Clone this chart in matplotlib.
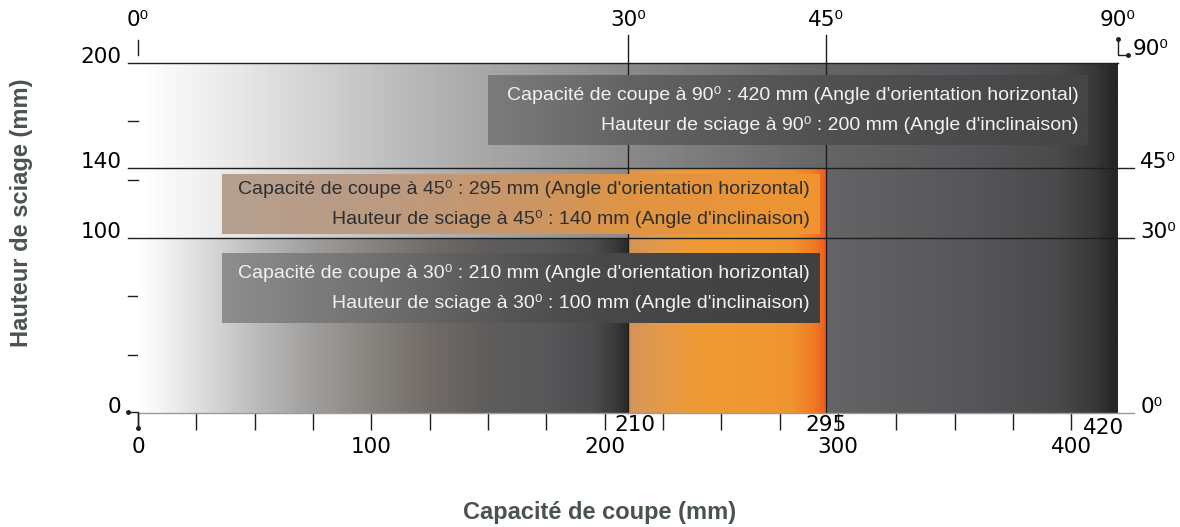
import numpy as np
import matplotlib.pyplot as plt
from matplotlib.colors import LinearSegmentedColormap

plt.rcParams['font.family'] = ['Liberation Sans', 'DejaVu Sans']

# Angles and matching capacities (mm)
angles = [30, 45, 90]
cut_capacity = [210, 295, 420]   # Capacité de coupe
saw_height = [100, 140, 200]     # Hauteur de sciage
top_angles = [0, 30, 45, 90]
right_angles = [0, 30, 45]
x_major = [0, 100, 200, 300, 400]
x_minor = np.arange(25, 425, 25)
y_major = [0, 100, 140, 200]
y_minor = [33.3, 66.7, 133.3, 166.7]

LINE = '#1e1e1e'
TITLE = '#4a5351'
TICKFONT = dict(fontsize=15.5, family='DejaVu Sans')


def gradient(ax, x0, x1, y0, y1, stops, z):
    pos = [((s - x0) / (x1 - x0), c) for s, c in stops]
    cmap = LinearSegmentedColormap.from_list('g', pos)
    ax.imshow(np.linspace(0, 1, 400)[None, :], cmap=cmap, extent=[x0, x1, y0, y1],
              aspect='auto', zorder=z, interpolation='bilinear')


fig = plt.figure(figsize=(11.8, 5.27), dpi=100)
ax = fig.add_axes([138 / 1180, 114 / 527, 980 / 1180, 350 / 527])

# background zones
gradient(ax, 0, cut_capacity[2], 0, saw_height[2],
         [(0, '#ffffff'), (40, '#e9e9e9'), (110, '#bdbdbd'), (150, '#a7a7a7'),
          (210, '#8a8a8a'), (295, '#656567'), (360, '#56565a'), (395, '#4a4a4c'),
          (410, '#3a3a3b'), (420, '#262626')], 1)
gradient(ax, cut_capacity[0], cut_capacity[1], 0, saw_height[1],
         [(210, '#d49458'), (225, '#e59a48'), (240, '#f09a35'), (280, '#f0952e'),
          (290, '#f07a25'), (295, '#ee5a1e')], 2)
gradient(ax, 0, cut_capacity[0], 0, saw_height[0],
         [(0, '#ffffff'), (8, '#f6f6f6'), (27, '#dcdcdc'), (50, '#bcbcbc'),
          (75, '#a09e9c'), (100, '#88847f'), (125, '#726c68'), (150, '#5f5d5c'),
          (175, '#58585a'), (195, '#4e4e50'), (205, '#3a3a3a'), (210, '#2a2a2a')], 3)

# guide lines
ax.plot([-4.3, cut_capacity[2]], [saw_height[2]] * 2, color=LINE, lw=1, zorder=4, clip_on=False)
for h in saw_height[:2]:
    ax.plot([-4.3, 427], [h, h], color=LINE, lw=1, zorder=4, clip_on=False)
for c in cut_capacity[:2]:
    ax.plot([c, c], [0, 216], color=LINE, lw=1, zorder=4, clip_on=False)
ax.plot([0, 427], [0, 0], color='#9a9a9a', lw=1, zorder=4, clip_on=False)
ax.plot([0, 0], [204.6, 213], color=LINE, lw=1, clip_on=False)

# corner marks
ax.plot([-4.3, 0, 0], [0.6, 0.6, -8.6], color=LINE, lw=1, clip_on=False, zorder=5)
ax.plot([-4.3, 0], [0.6, -8.6], 'o', color=LINE, ms=2.5, clip_on=False, zorder=5)
ax.plot([420, 420, 424.3], [213.7, 204.6, 204.6], color=LINE, lw=1, clip_on=False)
ax.plot([420, 424.3], [213.7, 204.6], 'o', color=LINE, ms=2.5, clip_on=False)

# label boxes
boxes = {
    90: dict(x=(150, 407), y=(153, 193), fg='#f2f2f2',
             stops=[(150, '#7c7c7c'), (210, '#636363'), (295, '#515151'), (407, '#454545')]),
    45: dict(x=(36, 292), y=(102.5, 136.5), fg='#2e2e2e',
             stops=[(36, '#b4a090'), (110, '#bc9a80'), (170, '#cc9664'), (210, '#e09444'),
                    (292, '#f09430')]),
    30: dict(x=(36, 292), y=(51.5, 91), fg='#f2f2f2',
             stops=[(36, '#8e8e8e'), (100, '#727070'), (150, '#5a5858'), (200, '#484848'),
                    (292, '#404040')]),
}
for a, c, h in zip(angles, cut_capacity, saw_height):
    b = boxes[a]
    gradient(ax, b['x'][0], b['x'][1], b['y'][0], b['y'][1], b['stops'], 6)
    yc = (b['y'][0] + b['y'][1]) / 2
    xr = b['x'][1] - 4
    ax.text(xr, yc + 8.5, f"Capacité de coupe à {a}⁰ : {c} mm (Angle d'orientation horizontal)",
            ha='right', va='center', fontsize=14, color=b['fg'], zorder=7)
    ax.text(xr, yc - 8.5, f"Hauteur de sciage à {a}⁰ : {h} mm (Angle d'inclinaison)",
            ha='right', va='center', fontsize=14, color=b['fg'], zorder=7)

ax.set_xlim(0, 420)
ax.set_ylim(0, 200)
for s in ax.spines.values():
    s.set_visible(False)

# bottom ticks
ax.set_xticks(x_major)
ax.set_xticks(x_minor, minor=True)
ax.tick_params(axis='x', which='both', length=12, width=1, color=LINE, direction='out',
               labelsize=15.5, pad=5)
for lab in ax.get_xticklabels():
    lab.set_family('DejaVu Sans')
ax.set_yticks([])

# extra x labels (210 nudged off the 200 tick, like the original)
ax.text(cut_capacity[0] + 3, -7, str(cut_capacity[0]), ha='center', va='center', zorder=8,
        clip_on=False, **TICKFONT)
ax.text(cut_capacity[1], -7, str(cut_capacity[1]), ha='center', va='center', zorder=8,
        clip_on=False, **TICKFONT)
ax.text(414, -8.6, str(cut_capacity[2]), ha='center', va='center', clip_on=False, **TICKFONT)

# left labels and ticks
for v in y_major:
    ax.text(-7, v, str(v), ha='right', va='baseline', clip_on=False, **TICKFONT)
for v in y_minor:
    ax.plot([-4.3, 0], [v, v], color=LINE, lw=1, clip_on=False)

# right labels
for a, v in zip(right_angles, [0] + saw_height[:2]):
    ax.text(429.5, v, f"{a}⁰", ha='left', va='baseline', clip_on=False, **TICKFONT)
ax.text(426.4, 204.6, "90⁰", ha='left', va='baseline', clip_on=False, **TICKFONT)

# top labels
for a, x in zip(top_angles, [0] + cut_capacity):
    ax.text(x, 221, f"{a}⁰", ha='center', va='baseline', clip_on=False, **TICKFONT)

fig.text(600 / 1180, 1 - 512 / 527, 'Capacité de coupe (mm)', ha='center', va='center',
         fontsize=17, fontweight='bold', color=TITLE)
fig.text(22 / 1180, 1 - 213 / 527, 'Hauteur de sciage (mm)', ha='center', va='center',
         rotation=90, fontsize=17, fontweight='bold', color=TITLE)

fig.savefig('out.png', dpi=100)
